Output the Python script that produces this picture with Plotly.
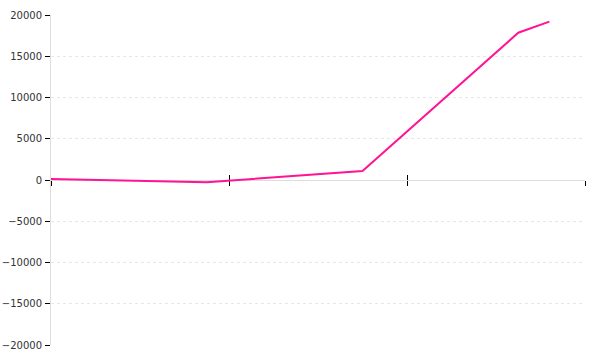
import plotly.graph_objects as go

x_vals = [0, 10.5, 21, 31.5, 33.6]
y_vals = [120, -270, 1090, 17850, 19200]
x_ticks = [0, 12, 24, 36]
y_ticks = [-20000, -15000, -10000, -5000, 0, 5000, 10000, 15000, 20000]

fig = go.Figure()
fig.add_trace(go.Scatter(x=x_vals, y=y_vals, mode="lines",
                         line=dict(color="#ff1493", width=2), showlegend=False))
# overlay trace on xaxis2 for inside ticks
fig.add_trace(go.Scatter(x=[x_ticks[0]], y=[0], xaxis="x2", mode="markers",
                         marker=dict(opacity=0), showlegend=False, hoverinfo="skip"))

common_x = dict(range=[x_ticks[0], x_ticks[-1]], tickvals=x_ticks, showticklabels=False,
                showgrid=False, zeroline=False, ticklen=5, tickcolor="#000", tickwidth=1,
                anchor="free", position=0.5, layer="below traces", automargin=False)
fig.update_layout(
    width=600, height=360,
    margin=dict(l=51, r=15, t=15, b=15),
    paper_bgcolor="white", plot_bgcolor="white",
    font=dict(family="DejaVu Sans", size=10, color="#333"),
    xaxis=dict(**common_x, ticks="outside", showline=True, linecolor="#dddddd", linewidth=1),
    xaxis2=dict(**common_x, ticks="inside", showline=False, overlaying="x"),
    yaxis=dict(range=[-20000, 20000], tickvals=y_ticks, tickformat="d", ticks="outside", ticklen=5,
               tickcolor="#000", tickwidth=1, showline=True, linecolor="#dddddd", linewidth=1,
               showgrid=True, gridcolor="#e6e6e6", griddash="dot", gridwidth=1,
               zeroline=False, ticklabelstandoff=1, layer="below traces", automargin=False),
)
fig.write_html("out.html")
